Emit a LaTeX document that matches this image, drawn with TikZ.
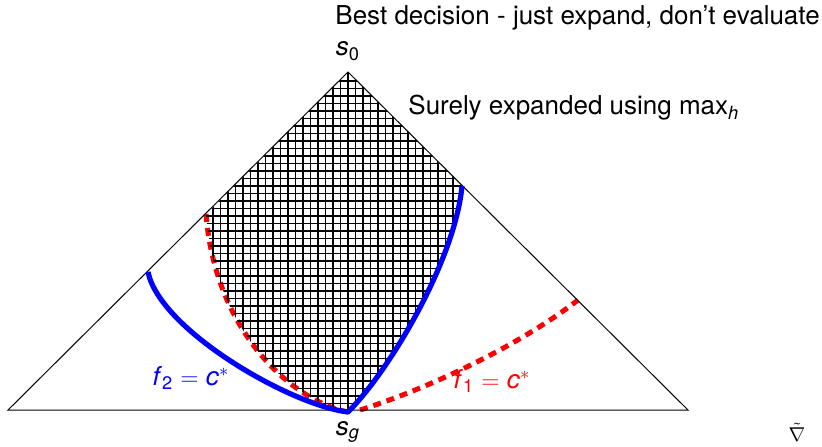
\documentclass[tikz,border=0pt]{standalone}
\usepackage{fontspec}
\setmainfont{TeX Gyre Heros}
\newcommand{\mysub}[1]{\textsubscript{#1}}
\begin{document}
\begin{tikzpicture}[x=0.5pt,y=-0.5pt,
  lbl/.style={inner sep=0pt,font=\fontsize{13}{15}\selectfont},
  edge/.style={line width=0.5pt,black},
  bluecurve/.style={line width=2.6pt,blue,line join=round},
  reddash/.style={line width=2.5pt,red,dash pattern=on 4pt off 3pt},
  gridline/.style={line width=0.75pt,black}]
\useasboundingbox (0,0) rectangle (822,446);
% corners
\coordinate (top) at (348,72);
\coordinate (bl) at (8,410);
\coordinate (br) at (688,410);
\coordinate (goal) at (348,412);
\coordinate (rl) at (206,214);
\coordinate (bR) at (462,186);
\coordinate (bL) at (148,272);
\coordinate (rR) at (578,300);
\coordinate (rS) at (360,410);
% red dashed curves
\draw[reddash] (rl) .. controls (215,330) and (290,400) .. (goal);
\draw[reddash] (rS) .. controls (430,388) and (520,345) .. (rR);
% grid region
\begin{scope}
\clip (top) -- (bR) .. controls (455,260) and (390,370) .. (goal)
  .. controls (290,400) and (215,330) .. (rl) -- cycle;
\foreach \i in {0,...,46} \draw[gridline] (168+7.5*\i,60) -- (168+7.5*\i,420);
\foreach \i in {0,...,48} \draw[gridline] (180,66+7.5*\i) -- (500,66+7.5*\i);
\end{scope}
% triangle
\draw[edge] (bl) -- (top) -- (br) -- cycle;
% blue curve
\draw[bluecurve] (bL) .. controls (160,330) and (290,405) .. (goal)
  .. controls (390,370) and (455,260) .. (bR);
% labels
\node[lbl] (s0) at (348,51) {\textit{s}\mysub{0}};
\node[lbl] (sg) at (348,432) {\textit{s}\mysub{\textit{g}}};
\node[lbl,anchor=west] (best) at (335,18) {Best decision - just expand, don't evaluate};
\node[lbl,anchor=west] (surely) at (408,108) {Surely expanded using max\mysub{\textit{h}}};
\node[lbl,blue] (f2) at (191,378) {\textit{f}\mysub{2} $=$ \textit{c}$^{*}$};
\node[lbl,red] (f1) at (492,381) {\textit{f}\mysub{1} $=$ \textit{c}$^{*}$};
\node[inner sep=0pt,font=\fontsize{10}{11}\selectfont] (logo) at (797,432) {$\tilde{\nabla}$};
\end{tikzpicture}
\end{document}
